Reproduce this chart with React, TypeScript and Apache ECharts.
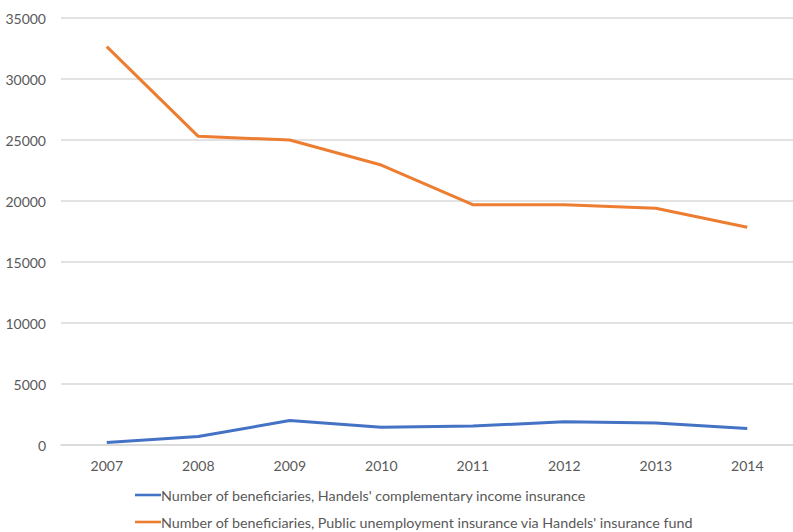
import React, { useEffect, useRef } from "react";
import * as echarts from "echarts";

const years = ["2007", "2008", "2009", "2010", "2011", "2012", "2013", "2014"];
const complementaryIncome = [200, 700, 2000, 1450, 1550, 1900, 1800, 1350];
const publicUnemployment = [32650, 25300, 25000, 22950, 19700, 19700, 19400, 17850];
const seriesNames = [
  "Number of beneficiaries, Handels' complementary income insurance",
  "Number of beneficiaries, Public unemployment insurance via Handels' insurance fund",
];

const FONT = "Lato";
const TEXT = "#595959";
const GRID = "#d9d9d9";

const legendRow = (name: string, top: number) => ({
  orient: "horizontal",
  left: 130,
  top,
  itemWidth: 26,
  itemHeight: 14,
  icon: "path://M0,6 L26,6 L26,8.6 L0,8.6 Z",
  textStyle: { color: TEXT, fontFamily: FONT, fontSize: 14.3, padding: [0, 0, 0, -5] },
  data: [name],
});

export default function App() {
  const ref = useRef<HTMLDivElement>(null);

  useEffect(() => {
    if (!ref.current) return;
    const chart = echarts.init(ref.current, undefined, { renderer: "svg" });
    chart.setOption({
      animation: false,
      backgroundColor: "#ffffff",
      textStyle: { fontFamily: FONT, color: TEXT },
      grid: { left: 61, right: -8, top: 18, bottom: 87, containLabel: false },
      xAxis: {
        type: "category",
        data: years,
        boundaryGap: true,
        axisLine: { show: true, lineStyle: { color: GRID, width: 1.5 } },
        axisTick: { show: false },
        axisLabel: { color: TEXT, fontFamily: FONT, fontSize: 14, margin: 13 },
      },
      yAxis: {
        type: "value",
        min: 0,
        max: 35000,
        interval: 5000,
        axisLine: { show: false },
        axisTick: { show: false },
        axisLabel: {
          color: TEXT,
          fontFamily: FONT,
          fontSize: 14,
          margin: 15,
          formatter: (v: number) => String(v),
        },
        splitLine: { lineStyle: { color: GRID, width: 1.5 } },
      },
      legend: [legendRow(seriesNames[0], 483), legendRow(seriesNames[1], 510)],
      series: [
        {
          name: seriesNames[0],
          type: "line",
          data: complementaryIncome,
          showSymbol: false,
          symbol: "none",
          lineStyle: { color: "#4472C4", width: 3 },
          itemStyle: { color: "#4472C4" },
        },
        {
          name: seriesNames[1],
          type: "line",
          data: publicUnemployment,
          showSymbol: false,
          symbol: "none",
          lineStyle: { color: "#ED7D31", width: 3 },
          itemStyle: { color: "#ED7D31" },
        },
      ],
    });
    return () => chart.dispose();
  }, []);

  return (
    <div
      ref={ref}
      style={{ position: "fixed", left: 0, top: 0, width: 793, height: 532, background: "#fff" }}
    />
  );
}
